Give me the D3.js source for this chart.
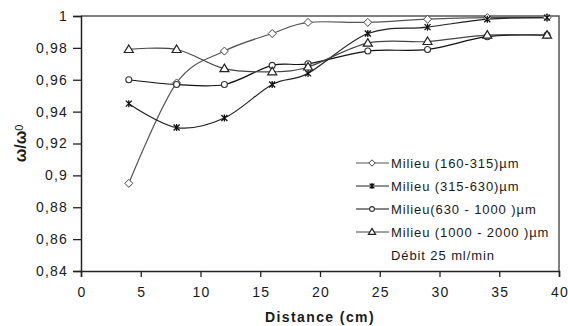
<!DOCTYPE html>
<html>
<head>
<meta charset="utf-8">
<script src="https://cdn.jsdelivr.net/npm/d3@7"></script>
<style>
  body { margin: 0; background: #fff; }
  text { font-family: 'Liberation Sans', Arial, sans-serif; fill: #1a1a1a; }
</style>
</head>
<body>
<div id="chart"></div>
<script>
const distances = [4, 8, 12, 16, 19, 24, 29, 34, 39]
const milieu160 = [0.895, 0.958, 0.978, 0.989, 0.996, 0.996, 0.998, 0.999, 0.999]
const milieu315 = [0.945, 0.930, 0.936, 0.957, 0.964, 0.989, 0.993, 0.998, 0.999]
const milieu630 = [0.960, 0.957, 0.957, 0.969, 0.970, 0.978, 0.979, 0.987, 0.988]
const milieu1000 = [0.979, 0.979, 0.967, 0.965, 0.968, 0.983, 0.984, 0.988, 0.988]
const seriesNames = ['Milieu (160-315)µm', 'Milieu (315-630)µm', 'Milieu(630 - 1000 )µm', 'Milieu (1000 - 2000 )µm']
const xTicks = [0, 5, 10, 15, 20, 25, 30, 35, 40]
const yTicks = [0.84, 0.86, 0.88, 0.9, 0.92, 0.94, 0.96, 0.98, 1]
const note = 'Débit 25 ml/min'

const W = 568, H = 326
const margin = { top: 16, right: 9, bottom: 55, left: 81 }

const svg = d3.select('#chart').append('svg')
  .attr('width', W).attr('height', H)

const x = d3.scaleLinear().domain([0, 40]).range([margin.left, W - margin.right])
const y = d3.scaleLinear().domain([0.84, 1]).range([H - margin.bottom, margin.top])

// frame (top + right)
svg.append('path')
  .attr('d', `M${x(0)},${y(1)}H${x(40)}V${y(0.84)}`)
  .attr('fill', 'none').attr('stroke', '#555').attr('stroke-width', 1.5)

const fmt = d => String(+d.toFixed(2)).replace('.', ',')

const xAxis = svg.append('g')
  .attr('transform', `translate(0,${y(0.84)})`)
  .call(d3.axisBottom(x).tickValues(xTicks).tickSize(6).tickPadding(10).tickFormat(d => d))
const yAxis = svg.append('g')
  .attr('transform', `translate(${x(0)},0)`)
  .call(d3.axisLeft(y).tickValues(yTicks).tickSize(8).tickPadding(5).tickFormat(fmt))

;[xAxis, yAxis].forEach(a => {
  a.select('.domain').attr('stroke', '#222').attr('stroke-width', 1.5)
  a.selectAll('.tick line').attr('stroke', '#222').attr('stroke-width', 1.3)
  a.selectAll('.tick text')
    .style('font-size', '14px')
    .style('letter-spacing', '1.2px')
    .style('font-family', "'Liberation Sans', Arial, sans-serif")
    .attr('fill', '#1a1a1a')
})
xAxis.selectAll('.tick text').attr('dx', 0.6)

svg.append('text')
  .attr('x', (x(0) + x(40)) / 2).attr('y', 322)
  .attr('text-anchor', 'middle')
  .style('font-size', '14px').style('font-weight', 'bold').style('letter-spacing', '1.4px')
  .text('Distance (cm)')

const yl = svg.append('text')
  .attr('transform', `translate(26,${(y(0.84) + y(1)) / 2}) rotate(-90)`)
  .attr('text-anchor', 'middle')
  .style('font-size', '16px').style('font-weight', 'bold')
yl.append('tspan').text('ω/ω')
yl.append('tspan').attr('dy', -3).style('font-size', '11px').style('font-weight', 'normal').text('0')

// marker shapes
function marker (g, type, cx, cy, k = 1) {
  if (type === 'diamond') {
    const r = 4 * k
    g.append('path').attr('d', `M${cx},${cy - r}L${cx + r},${cy}L${cx},${cy + r}L${cx - r},${cy}Z`)
      .attr('fill', '#fff').attr('stroke', '#444').attr('stroke-width', 1)
  } else if (type === 'star') {
    const r = 3 * k
    g.append('path').attr('d', `M${cx - r},${cy - r}L${cx + r},${cy + r}M${cx - r},${cy + r}L${cx + r},${cy - r}M${cx},${cy - r - 0.5}V${cy + r + 0.5}`)
      .attr('stroke', '#111').attr('stroke-width', 1.3)
  } else if (type === 'circle') {
    g.append('circle').attr('cx', cx).attr('cy', cy).attr('r', 3 * k)
      .attr('fill', '#fff').attr('stroke', '#333').attr('stroke-width', 1.1)
  } else {
    const r = 4.5 * k
    g.append('path').attr('d', `M${cx},${cy - r}L${cx + r},${cy + r * 0.67}L${cx - r},${cy + r * 0.67}Z`)
      .attr('fill', '#fff').attr('stroke', '#222').attr('stroke-width', 1.2)
  }
}

const series = [
  { values: milieu160, type: 'diamond', color: '#555' },
  { values: milieu315, type: 'star', color: '#222' },
  { values: milieu630, type: 'circle', color: '#111' },
  { values: milieu1000, type: 'triangle', color: '#444' }
]

const line = d3.line()
  .x(d => x(d[0]))
  .y(d => y(d[1]))
  .curve(d3.curveCardinal.tension(0))

series.forEach(s => {
  const pts = distances.map((d, i) => [d, s.values[i]])
  svg.append('path').datum(pts)
    .attr('fill', 'none').attr('stroke', s.color).attr('stroke-width', 1.2)
    .attr('d', line)
})
series.forEach(s => {
  const g = svg.append('g')
  distances.forEach((d, i) => marker(g, s.type, x(d), y(s.values[i])))
})

// legend
const legendY = [163, 186, 209, 232]
series.forEach((s, i) => {
  const g = svg.append('g')
  g.append('line').attr('x1', 356).attr('x2', 389)
    .attr('y1', legendY[i]).attr('y2', legendY[i])
    .attr('stroke', s.color).attr('stroke-width', 1.2)
  marker(g, s.type, 372, legendY[i], 0.8)
  g.append('text').attr('x', 391).attr('y', legendY[i] + 4.5)
    .style('font-size', '13px').style('letter-spacing', '0.9px').text(seriesNames[i])
})
svg.append('text').attr('x', 391).attr('y', 260)
  .style('font-size', '13px').style('letter-spacing', '0.9px').text(note)
</script>
</body>
</html>
